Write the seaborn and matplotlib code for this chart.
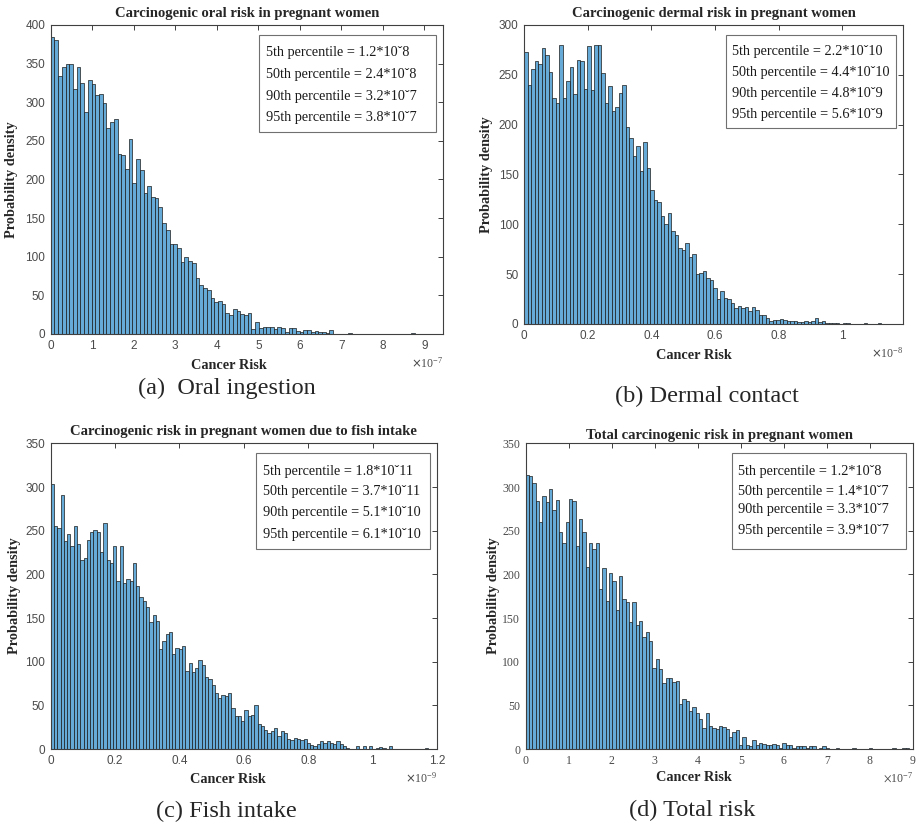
import numpy as np
import pandas as pd
import matplotlib
matplotlib.use("Agg")
import matplotlib.pyplot as plt
import seaborn as sns
from matplotlib.ticker import ScalarFormatter
from matplotlib.patches import Rectangle

# ---- data: histogram bin heights (bins start at 0) ----
oral_width = 8.95e-9
oral_heights = [384, 381, 334, 346, 349, 349, 317, 346, 325, 287, 329, 324, 310, 311, 299,
                267, 274, 278, 233, 232, 214, 252, 196, 227, 212, 183, 192, 177, 176,
                164, 144, 134, 116, 116, 111, 93, 100, 94, 92, 72, 63, 60, 57, 46, 42,
                43, 39, 27, 24, 32, 30, 26, 24, 27,
                6, 15, 8, 9, 9, 9, 6, 9, 8, 3, 8, 8, 4, 3, 5, 5, 3, 4, 2, 2, 1, 5,
                0, 0, 0, 0, 1, 0, 0, 0, 0, 0, 0, 0, 0, 0, 0, 0, 0, 0, 0, 0, 0, 1, 0]

dermal_width = 1.1e-10
dermal_heights = [273, 240, 256, 264, 261, 277, 270, 253, 227, 222, 280, 227, 244, 258, 231,
                  265, 264, 236, 279, 235, 280, 280, 252, 222, 239, 214, 218, 232, 240, 198,
                  187, 169, 179, 154, 183, 157, 134, 124,
                  122, 108, 100, 111, 93, 89, 76, 74, 81, 67, 70, 50, 51, 53, 46, 44, 36,
                  25, 33, 26, 25, 21, 16, 18, 16, 17, 13, 17, 14, 9, 9, 6, 3, 4, 4, 5, 4,
                  3, 3, 3, 2, 2, 3, 2, 3, 6, 2, 3, 1, 1, 1, 1, 0, 1, 1, 0, 0, 0, 0, 1,
                  0, 0, 0, 1]

fish_width = 1.02e-11
fish_heights = [303, 255, 253, 291, 238, 246, 233, 255, 235, 216, 219, 239, 248, 251, 249,
                226, 259, 216, 213, 232, 192, 232, 190, 195, 192, 213, 187, 174, 169, 163,
                146, 153, 147, 115, 124, 132, 134, 109, 116, 115, 118, 89, 99, 88, 93,
                102, 96, 82, 80, 73, 64, 58, 62, 61, 64,
                47, 38, 38, 32, 45, 38, 39, 50, 29, 26, 22, 18, 21, 24, 15, 21, 18, 11,
                10, 13, 12, 10, 12, 7, 5, 3, 6, 9, 7, 9, 7, 6, 9, 6, 3, 1,
                0, 0, 3, 0, 4, 0, 4, 0, 1, 2, 1, 0, 3, 0, 0, 0, 0, 0, 0, 0, 0, 0, 0, 1]

total_width = 7.75e-9
total_heights = [314, 313, 305, 284, 260, 290, 283, 298, 274, 285, 248, 236, 260, 286, 284,
                 232, 263, 249, 208, 236, 229, 236, 183, 207, 169, 201, 192, 159, 198, 172,
                 168, 146, 168, 142, 147, 128, 134, 124,
                 93, 103, 92, 76, 81, 81, 77, 78,
                 52, 57, 55, 44, 48, 41, 34, 24, 41, 26, 24, 23, 26, 25, 23, 14, 19, 22,
                 5, 14, 5, 3, 10, 5, 7, 6, 5, 5, 6, 5, 1, 7, 5, 5, 1, 3, 4, 3, 1, 3, 3,
                 0, 1, 3, 1,
                 0, 0, 1, 0, 0, 0, 0, 1, 0, 0, 0, 0, 1, 0, 0, 0, 0, 0, 0, 1, 0, 0, 1, 1, 0]

titles = ["Carcinogenic oral risk in pregnant women",
          "Carcinogenic dermal risk in pregnant women",
          "Carcinogenic risk in pregnant women due to fish intake",
          "Total carcinogenic risk in pregnant women"]
captions = ["(a)  Oral ingestion", "(b) Dermal contact", "(c) Fish intake", "(d) Total risk"]
percentiles = ["5th", "50th", "90th", "95th"]
oral_stats = ["1.2*10ˇ8", "2.4*10ˇ8", "3.2*10ˇ7", "3.8*10ˇ7"]
dermal_stats = ["2.2*10ˇ10", "4.4*10ˇ10", "4.8*10ˇ9", "5.6*10ˇ9"]
fish_stats = ["1.8*10ˇ11", "3.7*10ˇ11", "5.1*10ˇ10", "6.1*10ˇ10"]
total_stats = ["1.2*10ˇ8", "1.4*10ˇ7", "3.3*10ˇ7", "3.9*10ˇ7"]

oral_xticks = np.arange(0, 10) * 1e-7
dermal_xticks = np.arange(0, 6) * 0.2e-8
fish_xticks = np.arange(0, 7) * 0.2e-9
total_xticks = np.arange(0, 10) * 1e-7

# ---- style ----
sns.set_style("white")
plt.rcParams['font.family'] = ['Liberation Serif', 'DejaVu Serif']
BAR = '#66aad7'
EDGE = '#1a1a1a'
AXC = '#404040'
TICKC = '#4a4a4a'


class MatlabFormatter(ScalarFormatter):
    def __call__(self, x, pos=None):
        return f"{x / 10 ** self.orderOfMagnitude:g}"


def draw_panel(ax, heights, width, xticks, xlim, ymax, title, title_y, stats,
               ylab_x, xlab_xy, text_ys, serif_ticks=False):
    n = len(heights)
    df = pd.DataFrame({"risk": (np.arange(n) + 0.5) * width, "count": heights})
    sns.histplot(data=df, x="risk", weights="count", binwidth=width, binrange=(0, n * width),
                 ax=ax, color=BAR, alpha=1, edgecolor=EDGE, linewidth=0.5)
    ax.set_xlim(*xlim)
    ax.set_ylim(0, ymax)
    ax.set_xticks(xticks)
    ax.set_yticks(np.arange(0, ymax + 1, 50))
    fmt = MatlabFormatter(useMathText=True)
    fmt.set_powerlimits((0, 0))
    ax.xaxis.set_major_formatter(fmt)

    tick_family = 'Liberation Serif' if serif_ticks else 'Liberation Sans'
    ax.tick_params(direction='in', top=True, right=True, length=3.5, width=0.7,
                   color=AXC, labelcolor=TICKC, labelsize=8.5,
                   labelfontfamily=tick_family, pad=4)
    off = ax.xaxis.get_offset_text()
    off.set_fontsize(8.5)
    off.set_color(TICKC)
    if serif_ticks:
        off.set_math_fontfamily('stix')
    for sp in ax.spines.values():
        sp.set_color(AXC)
        sp.set_linewidth(0.8)
        sp.set_visible(True)

    ax.set_title(title, fontsize=10.5, fontweight='bold', y=title_y, va='center', pad=0)
    ax.set_ylabel("Probability density", fontsize=10.3, fontweight='bold')
    ax.yaxis.set_label_coords(ylab_x, 0.5)
    ax.yaxis.label.set_va('center')
    ax.set_xlabel("Cancer Risk", fontsize=10.3, fontweight='bold')
    ax.xaxis.set_label_coords(*xlab_xy)
    ax.xaxis.label.set_va('center')

    # percentile box
    ax.add_patch(Rectangle((0.532, 0.655), 0.45, 0.313, transform=ax.transAxes,
                           facecolor='white', edgecolor='#707070', lw=0.8, zorder=5))
    for y, p, v in zip(text_ys, percentiles, stats):
        ax.text(0.549, y, f"{p} percentile = {v}", transform=ax.transAxes,
                ha='left', va='center', fontsize=10.3, color='#1a1a1a', zorder=6)


fig = plt.figure(figsize=(9.19, 8.25), dpi=100)
ax_a = fig.add_axes([0.0552, 0.5952, 0.4269, 0.3745])
ax_b = fig.add_axes([0.5702, 0.6073, 0.4124, 0.3624])
ax_c = fig.add_axes([0.0552, 0.0921, 0.4203, 0.3705])
ax_d = fig.add_axes([0.5720, 0.0921, 0.4214, 0.3705])

draw_panel(ax_a, oral_heights, oral_width, oral_xticks, (0, 9.45e-7), 400, titles[0], 1.036,
           oral_stats, -0.099, (0.454, -0.103), [0.910, 0.841, 0.770, 0.701])
draw_panel(ax_b, dermal_heights, dermal_width, dermal_xticks, (0, 1.19e-8), 300, titles[1], 1.039,
           dermal_stats, -0.098, (0.447, -0.104), [0.911, 0.840, 0.771, 0.702])
draw_panel(ax_c, fish_heights, fish_width, fish_xticks, (0, 1.2e-9), 350, titles[2], 1.038,
           fish_stats, -0.095, (0.459, -0.101), [0.909, 0.842, 0.774, 0.703])
draw_panel(ax_d, total_heights, total_width, total_xticks, (0, 9e-7), 350, titles[3], 1.027,
           total_stats, -0.084, (0.435, -0.093), [0.909, 0.844, 0.782, 0.716], serif_ticks=True)

cap_pos = [(227, 388), (706.7, 396.7), (226, 811.7), (691.7, 810)]
for (cx, cy), cap in zip(cap_pos, captions):
    fig.text(cx / 919, 1 - cy / 825, cap, ha='center', va='center', fontsize=17.5)

fig.savefig("out.png", dpi=100)
